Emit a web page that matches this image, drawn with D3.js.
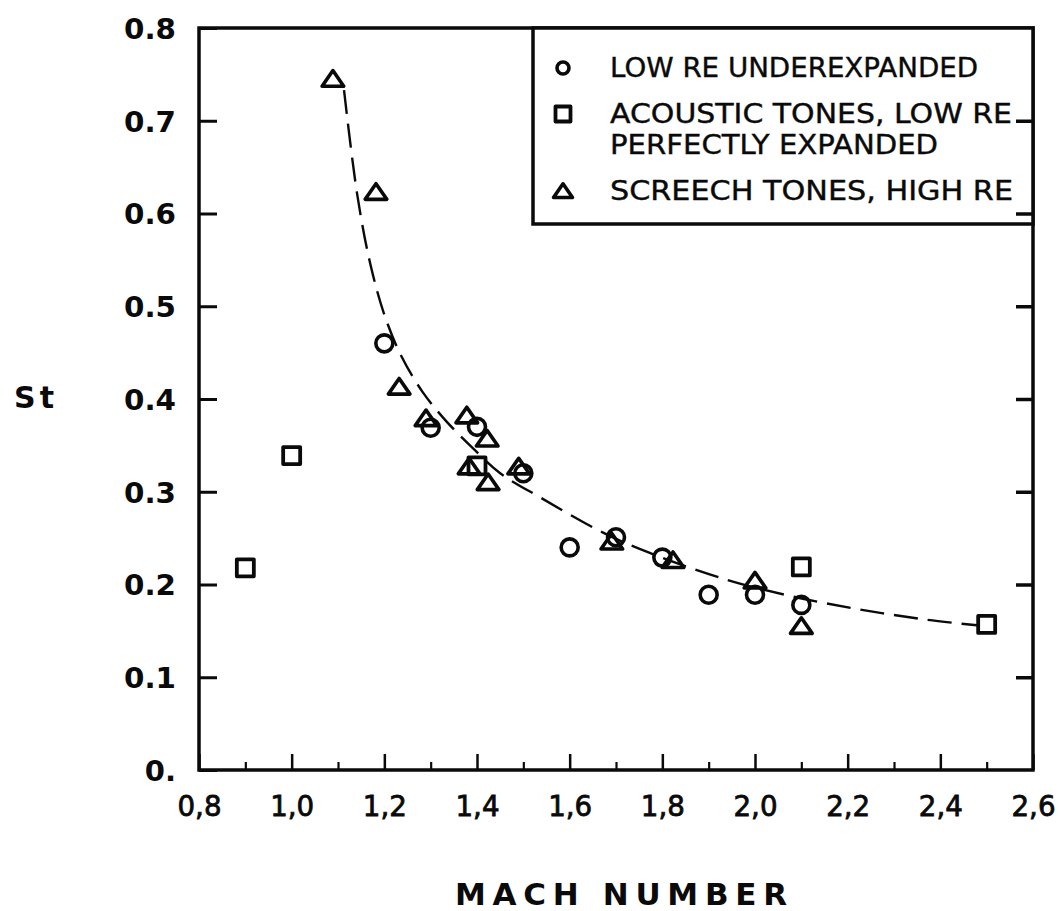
<!DOCTYPE html>
<html>
<head>
<meta charset="utf-8">
<script src="https://cdn.jsdelivr.net/npm/d3@7"></script>
<style>
  html, body { margin: 0; padding: 0; background: #fff; }
  svg { display: block; }
</style>
</head>
<body>
<svg id="chart" width="1064" height="911"></svg>
<script>
// ---- Data ----
const xTickValues = [0.8, 1.0, 1.2, 1.4, 1.6, 1.8, 2.0, 2.2, 2.4, 2.6];
const xTickLabels = ["0,8", "1,0", "1,2", "1,4", "1,6", "1,8", "2,0", "2,2", "2,4", "2,6"];
const xMinorTicks = [0.9, 1.1, 1.3, 1.5, 1.7, 1.9, 2.1, 2.3, 2.5];
const yTickValues = [0, 0.1, 0.2, 0.3, 0.4, 0.5, 0.6, 0.7, 0.8];
const yTickLabels = ["0.", "0.1", "0.2", "0.3", "0.4", "0.5", "0.6", "0.7", "0.8"];

// Low Re underexpanded (circles)
const circleMach = [1.20, 1.30, 1.40, 1.50, 1.60, 1.70, 1.80, 1.90, 2.00, 2.10];
const circleSt   = [0.460, 0.369, 0.370, 0.320, 0.240, 0.251, 0.229, 0.189, 0.189, 0.178];

// Acoustic tones, low Re perfectly expanded (squares)
const squareMach = [0.90, 1.00, 1.40, 2.10, 2.50];
const squareSt   = [0.218, 0.339, 0.328, 0.219, 0.157];

// Screech tones, high Re (triangles)
const triMach = [1.089, 1.182, 1.232, 1.290, 1.378, 1.422, 1.383, 1.424, 1.490, 1.691, 1.823, 2.00, 2.10];
const triSt   = [0.744, 0.622, 0.412, 0.378, 0.381, 0.356, 0.326, 0.309, 0.326, 0.245, 0.225, 0.203, 0.154];

// Dashed fitted curve
const curveMach = [1.113, 1.141, 1.170, 1.202, 1.238, 1.282, 1.332, 1.391, 1.450, 1.536, 1.672, 1.773, 1.940, 2.082, 2.227, 2.371, 2.479];
const curveSt   = [0.733, 0.622, 0.545, 0.488, 0.445, 0.408, 0.377, 0.347, 0.320, 0.294, 0.256, 0.234, 0.205, 0.187, 0.173, 0.162, 0.156];

const legendLines = ["LOW RE UNDEREXPANDED", "ACOUSTIC TONES, LOW RE", "PERFECTLY EXPANDED", "SCREECH TONES, HIGH RE"];

// ---- Layout ----
const svg = d3.select("#chart");
const ink = "#0a0a0a";
const x = d3.scaleLinear().domain([0.8, 2.6]).range([199, 1033]);
const y = d3.scaleLinear().domain([0, 0.8]).range([770, 28]);
const dv = "'DejaVu Sans', 'Liberation Sans', Arial, sans-serif";

// Triangle symbol (broad, flat like a plotter glyph)
const flatTriangle = {
  draw(ctx, size) {
    const w = Math.sqrt(size) * 1.25, h = w * 0.72;
    ctx.moveTo(0, -h * 0.6);
    ctx.lineTo(w / 2, h * 0.4);
    ctx.lineTo(-w / 2, h * 0.4);
    ctx.closePath();
  }
};

// Frame
svg.append("rect")
  .attr("x", x(0.8)).attr("y", y(0.8))
  .attr("width", x(2.6) - x(0.8)).attr("height", y(0) - y(0.8))
  .attr("fill", "none").attr("stroke", ink).attr("stroke-width", 3.5);

// Left axis: inward ticks, labels outside
const yAxis = d3.axisLeft(y)
  .tickValues(yTickValues)
  .tickFormat((d, i) => yTickLabels[i])
  .tickSizeInner(-18).tickSizeOuter(0).tickPadding(23);
const gy = svg.append("g").attr("transform", `translate(${x(0.8)},0)`).call(yAxis);
gy.select(".domain").remove();
gy.selectAll(".tick line").attr("stroke", ink).attr("stroke-width", 3);
gy.selectAll(".tick text")
  .attr("fill", ink)
  .style("font-family", dv).style("font-weight", "bold").style("font-size", "29px")
  .attr("dy", "0.36em")
  .each(function (d, i) {
    const t = yTickLabels[i];
    if (t.length === 3) d3.select(this).attr("textLength", 52).attr("lengthAdjust", "spacingAndGlyphs");
  });

// Bottom axis: major inward ticks with labels
const xAxis = d3.axisBottom(x)
  .tickValues(xTickValues)
  .tickFormat((d, i) => xTickLabels[i])
  .tickSizeInner(-16).tickSizeOuter(0).tickPadding(26);
const gx = svg.append("g").attr("transform", `translate(0,${y(0)})`).call(xAxis);
gx.select(".domain").remove();
gx.selectAll(".tick line").attr("stroke", ink).attr("stroke-width", 2.5);
gx.selectAll(".tick text")
  .attr("fill", ink)
  .style("font-family", dv).style("font-size", "28px")
  .attr("stroke", ink).attr("stroke-width", 0.8)
  .attr("textLength", 44).attr("lengthAdjust", "spacingAndGlyphs");

// Minor bottom ticks
const xAxisMinor = d3.axisBottom(x).tickValues(xMinorTicks).tickFormat("")
  .tickSizeInner(-8).tickSizeOuter(0);
const gxm = svg.append("g").attr("transform", `translate(0,${y(0)})`).call(xAxisMinor);
gxm.select(".domain").remove();
gxm.selectAll(".tick line").attr("stroke", ink).attr("stroke-width", 2.2);

// Dashed curve
const line = d3.line()
  .x((d, i) => x(curveMach[i]))
  .y((d, i) => y(curveSt[i]))
  .curve(d3.curveCatmullRom.alpha(0.5));
svg.append("path")
  .attr("d", line(curveMach))
  .attr("fill", "none").attr("stroke", ink).attr("stroke-width", 2.4)
  .attr("stroke-dasharray", "24,10");

// Markers
const circleSym = d3.symbol().type(d3.symbolCircle).size(Math.PI * 8.5 * 8.5);
const squareSym = d3.symbol().type(d3.symbolSquare).size(17 * 17);
const triSym = d3.symbol().type(flatTriangle).size(300);

svg.append("g").selectAll("path").data(circleMach).join("path")
  .attr("d", circleSym)
  .attr("transform", (d, i) => `translate(${x(d)},${y(circleSt[i])})`)
  .attr("fill", "none").attr("stroke", ink).attr("stroke-width", 3.6);

svg.append("g").selectAll("path").data(squareMach).join("path")
  .attr("d", squareSym)
  .attr("transform", (d, i) => `translate(${x(d)},${y(squareSt[i])})`)
  .attr("fill", "none").attr("stroke", ink).attr("stroke-width", 3.8)
  .attr("stroke-linejoin", "round");

svg.append("g").selectAll("path").data(triMach).join("path")
  .attr("d", triSym)
  .attr("transform", (d, i) => `translate(${x(d)},${y(triSt[i])})`)
  .attr("fill", "none").attr("stroke", ink).attr("stroke-width", 3.6)
  .attr("stroke-linejoin", "round");

// Legend
const legend = svg.append("g");
legend.append("rect")
  .attr("x", 533).attr("y", y(0.8)).attr("width", x(2.6) - 533).attr("height", 196)
  .attr("fill", "#fff").attr("stroke", ink).attr("stroke-width", 3.5);

const legendBaselines = [77, 123, 154, 200];
const legendWidths = [368, 402, 328, 403];
legend.selectAll("text").data(legendLines).join("text")
  .attr("x", 610).attr("y", (d, i) => legendBaselines[i])
  .attr("fill", ink)
  .style("font-family", dv).style("font-size", "27px")
  .attr("stroke", ink).attr("stroke-width", 0.4)
  .attr("textLength", (d, i) => legendWidths[i]).attr("lengthAdjust", "spacingAndGlyphs")
  .text(d => d);

legend.append("path").attr("d", d3.symbol().type(d3.symbolCircle).size(Math.PI * 6 * 6))
  .attr("transform", "translate(563,68)")
  .attr("fill", "none").attr("stroke", ink).attr("stroke-width", 3.6);
legend.append("path").attr("d", d3.symbol().type(d3.symbolSquare).size(15 * 15))
  .attr("transform", "translate(563,114)")
  .attr("fill", "none").attr("stroke", ink).attr("stroke-width", 3.8).attr("stroke-linejoin", "round");
legend.append("path").attr("d", d3.symbol().type(flatTriangle).size(230))
  .attr("transform", "translate(563,192)")
  .attr("fill", "none").attr("stroke", ink).attr("stroke-width", 3.6).attr("stroke-linejoin", "round");

// Right axis: inward ticks (drawn over legend)
const yRight = d3.axisLeft(y).tickValues([0.1, 0.2, 0.3, 0.4, 0.5, 0.6, 0.7]).tickFormat("")
  .tickSizeInner(17).tickSizeOuter(0);
const gr = svg.append("g").attr("transform", `translate(${x(2.6)},0)`).call(yRight);
gr.select(".domain").remove();
gr.selectAll(".tick line").attr("stroke", ink).attr("stroke-width", 3.5);

// Axis titles
svg.append("text")
  .attr("x", 14).attr("y", 408)
  .attr("fill", ink)
  .style("font-family", dv).style("font-weight", "bold").style("font-size", "30px")
  .attr("textLength", 40).attr("lengthAdjust", "spacing")
  .text("St");

svg.append("text")
  .attr("x", 455).attr("y", 905)
  .attr("fill", ink)
  .style("font-family", dv).style("font-weight", "bold").style("font-size", "31px")
  .attr("textLength", 332).attr("lengthAdjust", "spacing")
  .text("MACH NUMBER");
</script>
</body>
</html>
